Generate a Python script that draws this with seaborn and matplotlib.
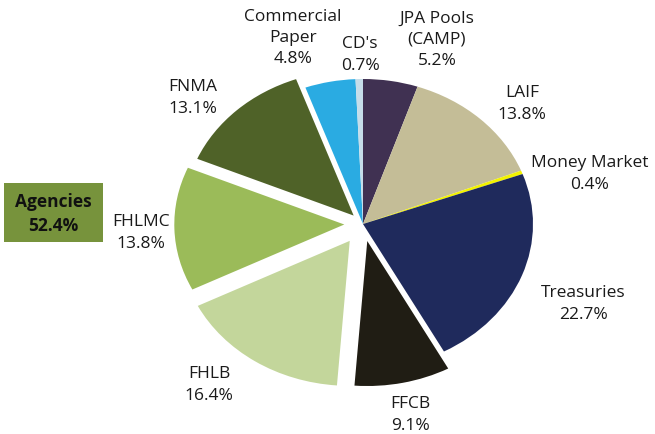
import matplotlib
matplotlib.use("Agg")
import matplotlib.pyplot as plt
from matplotlib.patches import Rectangle
import seaborn as sns

sns.set_style("white")
plt.rcParams['font.family'] = ['Open Sans', 'DejaVu Sans']

# slices, clockwise from 12 o'clock
categories = ["JPA Pools\n(CAMP)", "LAIF", "Money Market", "Treasuries", "FFCB",
              "FHLB", "FHLMC", "FNMA", "Commercial\nPaper", "CD's"]
shares = [5.2, 13.8, 0.4, 22.7, 9.1, 16.4, 13.8, 13.1, 4.8, 0.7]
colors = ["#403152", "#C4BD97", "#F2F200", "#1F2A5C", "#201D14",
          "#C3D69B", "#9BBB59", "#4F6228", "#2AABE2", "#C6DDE9"]
explode = [0, 0, 0, 0, 0.12, 0.14, 0.11, 0.08, 0, 0]

group_name = "Agencies"
group_share = 52.4

# label centres in pixels (x from left, y from top)
label_px = [(437, 40), (522, 104), (590, 174), (583, 304), (410, 415),
            (209, 385), (141, 233), (193, 98), (293, 38), (360, 55)]

W, H = 655, 435
fig = plt.figure(figsize=(W / 100, H / 100), dpi=100)

# pie is drawn a bit wider than tall, like the original
cx, cy, rx, ry = 363, 225, 170, 145
ax = fig.add_axes([(cx - 1.25 * rx) / W, (H - cy - 1.25 * ry) / H,
                   2.5 * rx / W, 2.5 * ry / H])
ax.pie(shares, colors=colors, explode=explode, startangle=90,
       counterclock=False, wedgeprops=dict(linewidth=0))
ax.set_xlim(-1.25, 1.25)
ax.set_ylim(-1.25, 1.25)
ax.set_aspect('auto')
ax.axis('off')

for cat, val, (px, py) in zip(categories, shares, label_px):
    fig.text(px / W, 1 - py / H, f"{cat}\n{val}%", ha='center', va='center',
             fontsize=12.5, linespacing=1.45, color="#1a1a1a")

# Agencies summary box
fig.patches.append(Rectangle((4 / W, 1 - 243 / H), 99 / W, 59 / H,
                             transform=fig.transFigure, facecolor="#77933C",
                             edgecolor="none"))
fig.text(53 / W, 1 - 214 / H, f"{group_name}\n{group_share}%", ha='center',
         va='center', fontsize=12.5, fontweight='bold', linespacing=1.45,
         color="#111111")

fig.savefig("out.png", dpi=100)
